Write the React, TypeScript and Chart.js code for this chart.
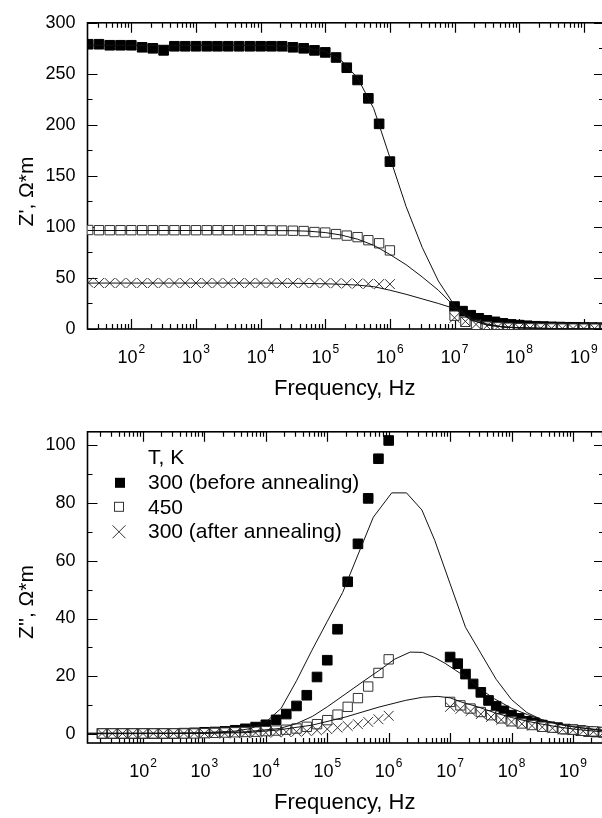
import React, { useEffect, useRef } from 'react';
import { Chart, registerables } from 'chart.js';

Chart.register(...registerables);

// ---------------- DATA ----------------
// measured frequency grids (Hz)
const LOW_FREQ = [21.5, 31.6, 46.4, 68.1, 100, 147, 215, 316, 464, 681, 1000, 1470, 2150, 3160, 4640, 6810, 1e4, 1.47e4, 2.15e4, 3.16e4, 4.64e4, 6.81e4, 1e5, 1.47e5, 2.15e5, 3.16e5, 4.64e5, 6.81e5, 1e6];
const HIGH_FREQ_A = [1e7, 1.33e7, 1.78e7, 2.37e7, 3.16e7, 4.22e7, 5.62e7, 7.5e7, 1e8, 1.33e8, 1.78e8, 2.37e8, 3.16e8, 4.22e8, 5.62e8, 7.5e8, 1e9, 1.33e9, 1.78e9, 2.37e9, 3.16e9];
const HIGH_FREQ_B = [1e7, 1.47e7, 2.15e7, 3.16e7, 4.64e7, 6.81e7, 1e8, 1.47e8, 2.15e8, 3.16e8, 4.64e8, 6.81e8, 1e9, 1.47e9, 2.15e9, 3.16e9];

// Z' (real part), Ohm*m
const ZRE_300B_LOW = [279, 279, 278, 278, 278, 276, 275, 273, 277, 277, 277, 277, 277, 277, 277, 277, 277, 277, 277, 276, 275, 273, 271, 266, 256, 244, 226, 201, 164];
const ZRE_300B_HIGH = [22, 17.5, 13.5, 10.5, 8.5, 7, 5.5, 4.5, 3.8, 3.2, 2.7, 2.4, 2.1, 1.9, 1.7, 1.6, 1.5, 1.4, 1.3, 1.2, 1.1];
const ZRE_450_LOW = [97, 96.8, 96.8, 96.8, 96.8, 96.8, 96.8, 96.8, 96.8, 96.8, 96.8, 96.8, 96.8, 96.8, 96.8, 96.8, 96.8, 96.6, 96.5, 96.3, 96, 95, 94.5, 93, 91.5, 90, 87, 84, 77];
const ZRE_450_HIGH = [13, 7, 4, 2.5, 1.7, 1.2, 0.9, 0.7, 0.6, 0.5, 0.4, 0.4, 0.3, 0.3, 0.3, 0.3];
const ZRE_300A_LOW = [45.5, 45, 45, 45, 45, 45, 45, 45, 45, 45, 45, 45, 45, 45, 45, 45, 45, 45, 45, 45, 45, 45, 45, 44.8, 44.6, 44.5, 44.3, 44, 44];
const ZRE_300A_HIGH = [11, 7.5, 4.5, 3, 2, 1.5, 1.1, 0.9, 0.7, 0.6, 0.5, 0.5, 0.4, 0.4, 0.4, 0.4];

// Z' fitted curves
const FIT_TOP_FREQ = [21, 100, 1e3, 1e4, 3.16e4, 5.62e4, 1e5, 1.78e5, 3.16e5, 5.62e5, 1e6, 1.78e6, 3.16e6, 5.62e6, 1e7, 1.78e7, 3.16e7, 5.62e7, 1e8, 3.16e8, 2.1e9];
const FIT_ZRE_300B = [278, 278, 278, 278, 277, 275, 272, 263, 246, 216, 168, 120, 80, 47, 23, 11, 5, 2, 1, 0.3, 0];
const FIT_ZRE_450 = [96.5, 96.5, 96.5, 96.5, 96.3, 95.8, 94.5, 92, 88, 82, 73, 63, 51, 38, 22, 9, 4, 2, 1.2, 0.5, 0.2];
const FIT_ZRE_300A = [45, 45, 45, 45, 44.8, 44.6, 44.3, 43.8, 43, 41.5, 38, 34, 29.5, 25, 20, 9, 4, 2, 1.2, 0.5, 0.2];

// Z'' (imaginary part), Ohm*m
const ZIM_300B_LOW = [0.3, 0.3, 0.3, 0.3, 0.3, 0.3, 0.3, 0.3, 0.4, 0.5, 0.7, 0.8, 1.0, 1.4, 1.9, 2.5, 3.3, 5.0, 7.0, 9.8, 13.5, 19.8, 25.6, 36.3, 52.7, 65.8, 81.5, 95.2, 101.5];
const ZIM_300B_HIGH = [26.7, 24.4, 20.8, 17.4, 14.5, 11.7, 9.7, 8.1, 6.6, 5.5, 4.5, 4.0, 3.2, 2.6, 2.3, 1.8, 1.6, 1.3, 1.0, 0.8, 0.7];
const ZIM_450_LOW = [0.3, 0.3, 0.3, 0.3, 0.3, 0.3, 0.3, 0.3, 0.3, 0.3, 0.4, 0.5, 0.6, 0.7, 0.8, 0.9, 1.1, 1.3, 1.6, 2.0, 2.6, 3.5, 4.9, 6.8, 9.5, 12.5, 16.5, 21.2, 25.9];
const ZIM_450_HIGH = [11.2, 10, 8.9, 7.7, 6.6, 5.5, 4.5, 3.75, 3.2, 2.6, 2.3, 1.8, 1.6, 1.2, 1.0, 0.8];
const ZIM_300A_LOW = [0.3, 0.3, 0.3, 0.3, 0.3, 0.3, 0.3, 0.3, 0.3, 0.3, 0.3, 0.3, 0.3, 0.4, 0.4, 0.5, 0.6, 0.7, 0.8, 0.9, 1.1, 1.4, 1.8, 2.3, 2.9, 3.5, 4.3, 5.2, 6.4];
const ZIM_300A_HIGH = [9.5, 8.8, 8, 7, 6, 5, 4.3, 3.6, 3, 2.5, 2.1, 1.7, 1.4, 1.1, 0.9, 0.7];

// Z'' fitted curves
const FIT_B1_FREQ = [12.6, 316, 1e3, 3.16e3, 5.62e3, 1e4, 1.78e4, 3.16e4, 5.62e4, 1e5, 1.78e5, 3.16e5, 5.62e5, 1.12e6, 1.95e6, 3.47e6, 5.62e6, 1e7, 1.78e7, 3.16e7, 5.62e7, 1e8, 1.78e8, 3.16e8, 5.62e8, 1e9, 3.16e9];
const FIT_ZIM_300B = [0.4, 0.4, 0.6, 1.1, 2.0, 4.2, 9, 18.5, 29, 39, 49, 62, 75, 83.4, 83.4, 77.5, 67, 52, 37, 28, 19, 12, 7.5, 5, 3.5, 2.6, 1.4];
const FIT_B2_FREQ = [12.6, 1e3, 4.79e3, 1.66e4, 3.16e4, 5.75e4, 1e5, 2e5, 3.98e5, 6.92e5, 1.26e6, 2.24e6, 3.55e6, 5.62e6, 8.32e6, 1.74e7, 3.16e7, 5.25e7, 1e8, 1.82e8, 3.16e8, 6.31e8, 1.26e9, 3.16e9];
const FIT_ZIM_450 = [0.3, 0.4, 0.9, 2.0, 3.7, 6.2, 9.5, 14, 18.5, 22, 26, 28.4, 28.3, 26.5, 24.5, 20, 15.5, 12.3, 9, 6.8, 5, 3.4, 2.3, 1.2];
const FIT_B3_FREQ = [12.6, 1e3, 5.01e3, 1.58e4, 5.75e4, 2e5, 6.92e5, 1.86e6, 3.55e6, 6.31e6, 1e7, 1.55e7, 2.82e7, 5.25e7, 1e8, 1.82e8, 3.16e8, 6.31e8, 1.26e9, 3.16e9];
const FIT_ZIM_300A = [0.2, 0.3, 0.6, 1.5, 3.2, 6, 9.4, 11.7, 12.8, 13.1, 12.6, 11.1, 9.5, 7.5, 5.8, 4.5, 3.5, 2.4, 1.6, 0.8];

const LEGEND_TITLE = 'T, K';
const SERIES_LABELS = ['300 (before annealing)', '450', '300 (after annealing)'];
const X_TITLE = 'Frequency, Hz';
const Y_TITLE_TOP = "Z', \u03A9*m";
const Y_TITLE_BOTTOM = "Z'', \u03A9*m";

// ---------------- RENDERING ----------------
const FONT = '"Liberation Sans", Arial, Helvetica, sans-serif';
const CANVAS_W = 612;
const CANVAS_H = 409;

const pts = (xs: number[], ys: number[]) => xs.map((x, i) => ({ x, y: ys[i] }));

function buildDatasets(
  low: number[][], high: { f: number[]; v: number[] }[], fits: { f: number[]; v: number[] }[]
) {
  const filled = {
    label: SERIES_LABELS[0],
    data: [...pts(LOW_FREQ, low[0]), ...pts(high[0].f, high[0].v)],
    pointStyle: 'rect',
    pointRadius: 6.8,
    backgroundColor: '#000',
    borderColor: '#000',
    borderWidth: 1,
    showLine: false,
    order: 4,
  };
  const open = {
    label: SERIES_LABELS[1],
    data: [...pts(LOW_FREQ, low[1]), ...pts(high[1].f, high[1].v)],
    pointStyle: 'rect',
    pointRadius: 6.6,
    backgroundColor: '#fff',
    borderColor: '#333',
    borderWidth: 1,
    showLine: false,
    order: 3,
  };
  const cross = {
    label: SERIES_LABELS[2],
    data: [...pts(LOW_FREQ, low[2]), ...pts(high[2].f, high[2].v)],
    pointStyle: 'crossRot',
    pointRadius: 7,
    backgroundColor: '#333',
    borderColor: '#333',
    borderWidth: 1,
    showLine: false,
    order: 2,
  };
  const lines = fits.map((ft) => ({
    data: pts(ft.f, ft.v),
    showLine: true,
    pointRadius: 0,
    borderColor: '#111',
    borderWidth: 1,
    tension: 0,
    fill: false,
    order: 1,
  }));
  return [filled, open, cross, ...lines];
}

type PlotCfg = {
  xMin: number; xMax: number; yMin: number; yMax: number;
  yStep: number; yMinor: number;
  padTop: number; xAxisH: number;
  yTitle: string; yTitleY: number;
  legend: boolean;
};

function makePlugin(cfg: PlotCfg) {
  return {
    id: 'originFrame',
    beforeDatasetsDraw(chart: any) {
      const { ctx, chartArea: a, scales } = chart;
      const xs = scales.x, ys = scales.y;
      ctx.save();
      ctx.strokeStyle = '#000';
      ctx.lineWidth = 1.2;
      ctx.beginPath();
      const lo = Math.floor(Math.log10(xs.min));
      const hi = Math.ceil(Math.log10(xs.max));
      for (let n = lo; n <= hi; n++) {
        for (let m = 1; m <= 9; m++) {
          const v = m * Math.pow(10, n);
          if (v < xs.min || v > xs.max) continue;
          const px = Math.round(xs.getPixelForValue(v)) + 0.5;
          const len = m === 1 ? 10 : 5;
          ctx.moveTo(px, a.bottom);
          ctx.lineTo(px, a.bottom - len);
          ctx.moveTo(px, a.top);
          ctx.lineTo(px, a.top + len);
        }
      }
      const start = Math.ceil(cfg.yMin / cfg.yMinor) * cfg.yMinor;
      for (let v = start; v <= cfg.yMax + 1e-9; v += cfg.yMinor) {
        const py = Math.round(ys.getPixelForValue(v)) + 0.5;
        const major = Math.abs(v / cfg.yStep - Math.round(v / cfg.yStep)) < 1e-6;
        const len = major ? 10 : 5;
        ctx.moveTo(a.left, py);
        ctx.lineTo(a.left + len, py);
        ctx.moveTo(a.right, py);
        ctx.lineTo(a.right - len, py);
      }
      ctx.stroke();
      ctx.lineWidth = 1.6;
      ctx.strokeRect(a.left, a.top, a.right - a.left, a.bottom - a.top);
      ctx.restore();
    },
    afterDraw(chart: any) {
      const { ctx, chartArea: a, scales } = chart;
      const xs = scales.x;
      ctx.save();
      ctx.fillStyle = '#000';
      ctx.textBaseline = 'alphabetic';
      // x tick labels 10^n
      const lo = Math.ceil(Math.log10(xs.min));
      const hi = Math.floor(Math.log10(xs.max));
      for (let n = lo; n <= hi; n++) {
        const px = xs.getPixelForValue(Math.pow(10, n));
        ctx.font = `18px ${FONT}`;
        const w1 = ctx.measureText('10').width;
        ctx.font = `12px ${FONT}`;
        const exp = String(n);
        const w2 = ctx.measureText(exp).width;
        const x0 = px - (w1 + w2 + 1) / 2;
        ctx.textAlign = 'left';
        ctx.font = `18px ${FONT}`;
        ctx.fillText('10', x0, a.bottom + 34);
        ctx.font = `12px ${FONT}`;
        ctx.fillText(exp, x0 + w1 + 1, a.bottom + 24);
      }
      // x title
      ctx.font = `22px ${FONT}`;
      ctx.textAlign = 'center';
      ctx.fillText(X_TITLE, (a.left + a.right) / 2 - 1, a.bottom + 66);
      // y title
      ctx.save();
      ctx.translate(33, cfg.yTitleY);
      ctx.rotate(-Math.PI / 2);
      ctx.font = `21px ${FONT}`;
      ctx.textAlign = 'center';
      ctx.fillText(cfg.yTitle, 0, 0);
      ctx.restore();
      // legend
      if (cfg.legend) {
        ctx.font = `21px ${FONT}`;
        ctx.textAlign = 'left';
        const tx = 148;
        const rows = [a.top + 57, a.top + 82, a.top + 106];
        ctx.fillText(LEGEND_TITLE, tx, a.top + 32);
        SERIES_LABELS.forEach((lab, i) => ctx.fillText(lab, tx, rows[i]));
        // filled square
        ctx.fillRect(115, rows[0] - 11, 10, 10);
        // open square
        ctx.strokeStyle = '#333';
        ctx.lineWidth = 1;
        ctx.strokeRect(114.5, rows[1] - 11.5, 9, 9);
        // cross
        const cx = 119, cy = rows[2] - 6, h = 6.5;
        ctx.beginPath();
        ctx.moveTo(cx - h, cy - h);
        ctx.lineTo(cx + h, cy + h);
        ctx.moveTo(cx + h, cy - h);
        ctx.lineTo(cx - h, cy + h);
        ctx.stroke();
      }
      ctx.restore();
    },
  };
}

function Plot({ cfg, datasets }: { cfg: PlotCfg; datasets: any[] }) {
  const ref = useRef<HTMLCanvasElement | null>(null);
  useEffect(() => {
    if (!ref.current) return;
    const chart = new Chart(ref.current, {
      type: 'scatter',
      data: { datasets },
      options: {
        animation: false,
        responsive: false,
        devicePixelRatio: 1,
        events: [],
        layout: { padding: { left: 0, right: CANVAS_W - 607, top: cfg.padTop, bottom: 0 } },
        plugins: { legend: { display: false }, tooltip: { enabled: false }, title: { display: false } },
        scales: {
          x: {
            type: 'logarithmic',
            min: cfg.xMin,
            max: cfg.xMax,
            ticks: { display: false },
            grid: { display: false, drawTicks: false },
            border: { display: false },
            afterFit: (s: any) => { s.height = cfg.xAxisH; },
          },
          y: {
            type: 'linear',
            min: cfg.yMin,
            max: cfg.yMax,
            ticks: {
              stepSize: cfg.yStep,
              includeBounds: false,
              padding: 12,
              color: '#000',
              font: { family: FONT, size: 18 },
            },
            grid: { display: false, drawTicks: false },
            border: { display: false },
            afterFit: (s: any) => { s.width = 87.5; },
          },
        },
      } as any,
      plugins: [makePlugin(cfg)],
    });
    return () => chart.destroy();
  }, []);
  return (
    <canvas
      ref={ref}
      width={CANVAS_W}
      height={CANVAS_H}
      style={{ display: 'block', width: CANVAS_W, height: CANVAS_H }}
    />
  );
}

const TOP_CFG: PlotCfg = {
  xMin: 21, xMax: 2.05e9, yMin: 0, yMax: 300, yStep: 50, yMinor: 25,
  padTop: 15, xAxisH: CANVAS_H - 329, yTitle: Y_TITLE_TOP, yTitleY: 191.5, legend: false,
};
const BOTTOM_CFG: PlotCfg = {
  xMin: 12.5, xMax: 3.2e9, yMin: -3, yMax: 104.5, yStep: 20, yMinor: 10,
  padTop: 20, xAxisH: CANVAS_H - 334, yTitle: Y_TITLE_BOTTOM, yTitleY: 193, legend: true,
};

const TOP_DATASETS = buildDatasets(
  [ZRE_300B_LOW, ZRE_450_LOW, ZRE_300A_LOW],
  [
    { f: HIGH_FREQ_A, v: ZRE_300B_HIGH },
    { f: HIGH_FREQ_B, v: ZRE_450_HIGH },
    { f: HIGH_FREQ_B, v: ZRE_300A_HIGH },
  ],
  [
    { f: FIT_TOP_FREQ, v: FIT_ZRE_300B },
    { f: FIT_TOP_FREQ, v: FIT_ZRE_450 },
    { f: FIT_TOP_FREQ, v: FIT_ZRE_300A },
  ]
);

const BOTTOM_DATASETS = buildDatasets(
  [ZIM_300B_LOW, ZIM_450_LOW, ZIM_300A_LOW],
  [
    { f: HIGH_FREQ_A, v: ZIM_300B_HIGH },
    { f: HIGH_FREQ_B, v: ZIM_450_HIGH },
    { f: HIGH_FREQ_B, v: ZIM_300A_HIGH },
  ],
  [
    { f: FIT_B1_FREQ, v: FIT_ZIM_300B },
    { f: FIT_B2_FREQ, v: FIT_ZIM_450 },
    { f: FIT_B3_FREQ, v: FIT_ZIM_300A },
  ]
);

export default function App() {
  return (
    <div
      style={{
        position: 'fixed', left: 0, top: 0, width: 602, height: 818,
        overflow: 'hidden', background: '#fff',
      }}
    >
      <div style={{ position: 'absolute', left: 0, top: 0 }}>
        <Plot cfg={TOP_CFG} datasets={TOP_DATASETS} />
      </div>
      <div style={{ position: 'absolute', left: 0, top: CANVAS_H }}>
        <Plot cfg={BOTTOM_CFG} datasets={BOTTOM_DATASETS} />
      </div>
    </div>
  );
}
